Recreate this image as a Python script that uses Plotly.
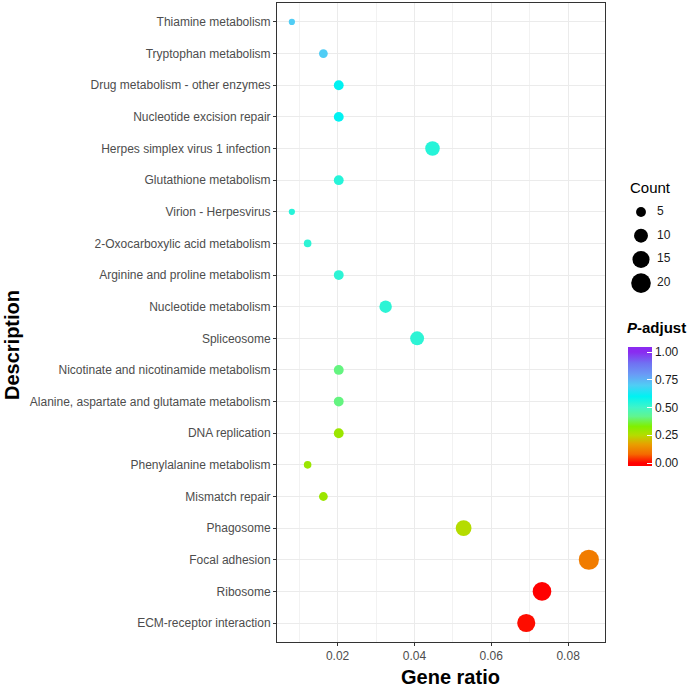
import plotly.graph_objects as go

# ---------------- data ----------------
descriptions = [
    "Thiamine metabolism",
    "Tryptophan metabolism",
    "Drug metabolism - other enzymes",
    "Nucleotide excision repair",
    "Herpes simplex virus 1 infection",
    "Glutathione metabolism",
    "Virion - Herpesvirus",
    "2-Oxocarboxylic acid metabolism",
    "Arginine and proline metabolism",
    "Nucleotide metabolism",
    "Spliceosome",
    "Nicotinate and nicotinamide metabolism",
    "Alanine, aspartate and glutamate metabolism",
    "DNA replication",
    "Phenylalanine metabolism",
    "Mismatch repair",
    "Phagosome",
    "Focal adhesion",
    "Ribosome",
    "ECM-receptor interaction",
]
gene_ratio = [0.0081, 0.0163, 0.0203, 0.0203, 0.0447, 0.0203, 0.0081, 0.0122,
              0.0203, 0.0325, 0.0407, 0.0203, 0.0203, 0.0203, 0.0122, 0.0163,
              0.0528, 0.0854, 0.0732, 0.0691]
counts = [2, 4, 5, 5, 11, 5, 2, 3, 5, 8, 10, 5, 5, 5, 3, 4, 13, 21, 18, 17]
p_adjust = [0.70, 0.70, 0.60, 0.60, 0.54, 0.54, 0.54, 0.53, 0.53, 0.53, 0.53,
            0.41, 0.41, 0.29, 0.29, 0.29, 0.25, 0.11, 0.00, 0.01]

legend_counts = [5, 10, 15, 20]
legend_labels = ["5", "10", "15", "20"]
cbar_ticks = [0.0, 0.25, 0.5, 0.75, 1.0]
x_ticks = [0.02, 0.04, 0.06, 0.08]

# ---------------- style ----------------
FONT = "Liberation Sans, Arial, sans-serif"
# colour stops as (p-adjust value, colour)
color_stops = [
    (0.00, "#FF0000"), (0.08, "#F56A00"), (0.17, "#E8A000"), (0.25, "#B5DC00"),
    (0.33, "#80F000"), (0.42, "#60F590"), (0.50, "#40F5C8"), (0.60, "#00F2F2"),
    (0.70, "#50CDF5"), (0.80, "#6A9AF5"), (0.90, "#7070F2"), (1.00, "#8A2BF0"),
]
CMIN, CMAX = -0.027, 1.045   # small bar extension like ggplot's colourbar
colorscale = [[0.0, color_stops[0][1]]]
for v, c in color_stops:
    colorscale.append([(v - CMIN) / (CMAX - CMIN), c])
colorscale.append([1.0, color_stops[-1][1]])

SIZEREF = 2 / 19.36

W, H = 688, 688
ML, MR, MT, MB = 277, 0, 3, 46
PW = W - ML - MR
PH = H - MT - MB


def px_x(px):
    return (px - ML) / PW


def px_y(py):
    return (H - MB - py) / PH


fig = go.Figure()

fig.add_trace(go.Scatter(
    x=gene_ratio, y=descriptions, mode="markers",
    marker=dict(
        size=counts, sizemode="area", sizeref=SIZEREF,
        color=p_adjust, cmin=CMIN, cmax=CMAX, colorscale=colorscale,
        line=dict(width=0), opacity=1,
        colorbar=dict(
            x=px_x(628), xanchor="left", xpad=0,
            y=px_y(406.5), yanchor="middle", ypad=0,
            lenmode="pixels", len=119, thickness=24,
            outlinewidth=0,
            tickvals=cbar_ticks, tickformat=".2f",
            ticks="inside", ticklen=5, tickcolor="white", tickwidth=1,
            tickfont=dict(size=12, color="#1a1a1a", family=FONT),
        ),
    ),
    showlegend=False, hoverinfo="x+y",
))

# size legend (Count)
fig.add_trace(go.Scatter(
    x=[0] * len(legend_counts), y=list(range(len(legend_counts))),
    mode="markers",
    marker=dict(size=legend_counts, sizemode="area", sizeref=SIZEREF,
                color="black", line=dict(width=0), opacity=1),
    xaxis="x2", yaxis="y2", showlegend=False, hoverinfo="skip",
))
fig.add_trace(go.Scatter(
    x=[1] * len(legend_counts), y=list(range(len(legend_counts))),
    mode="text", text=legend_labels, textposition="middle right",
    textfont=dict(size=12, color="#1a1a1a", family=FONT),
    xaxis="x2", yaxis="y2", showlegend=False, hoverinfo="skip",
))

fig.update_layout(
    width=W, height=H,
    margin=dict(l=ML, r=MR, t=MT, b=MB, pad=0),
    paper_bgcolor="white", plot_bgcolor="white",
    font=dict(family=FONT, color="#4d4d4d"),
    xaxis=dict(
        domain=[0, px_x(605)], range=[0.00423, 0.0896],
        tickvals=x_ticks, tickformat=".2f",
        ticks="outside", ticklen=3, tickcolor="#333333", tickwidth=1,
        tickfont=dict(size=12, color="#4d4d4d", family=FONT),
        showgrid=True, gridcolor="#ebebeb", gridwidth=1,
        minor=dict(dtick=0.01, tick0=0, showgrid=True, gridcolor="#f2f2f2", gridwidth=1),
        showline=True, linecolor="#333333", linewidth=1, mirror=True,
        zeroline=False,
    ),
    yaxis=dict(
        type="category", categoryorder="array", categoryarray=descriptions,
        range=[len(descriptions) - 0.4, -0.6],
        ticks="outside", ticklen=3, tickcolor="#333333", tickwidth=1,
        tickfont=dict(size=12, color="#4d4d4d", family=FONT),
        showgrid=True, gridcolor="#ebebeb", gridwidth=1,
        showline=True, linecolor="#333333", linewidth=1, mirror=True,
        zeroline=False,
    ),
    xaxis2=dict(domain=[px_x(620), 1], range=[-21 / 16, -21 / 16 + 68 / 16],
                visible=False, fixedrange=True),
    yaxis2=dict(domain=[px_y(300), px_y(175)],
                range=[(300 - 212) / 23.7, (175 - 212) / 23.7],
                visible=False, fixedrange=True),
    annotations=[
        dict(text="<b>Gene ratio</b>", x=px_x(450), y=px_y(677),
             xref="paper", yref="paper", xanchor="center", yanchor="middle",
             showarrow=False, font=dict(size=20, color="#000000", family=FONT)),
        dict(text="<b>Description</b>", x=px_x(12), y=px_y(345),
             xref="paper", yref="paper", xanchor="center", yanchor="middle",
             textangle=-90, showarrow=False,
             font=dict(size=20, color="#000000", family=FONT)),
        dict(text="Count", x=(628 - 641) / 16, y=(187 - 212) / 23.7,
             xref="x2", yref="y2", xanchor="left", yanchor="middle",
             showarrow=False, font=dict(size=15, color="#000000", family=FONT)),
        dict(text="<b><i>P</i>-adjust</b>", x=px_x(625), y=px_y(327),
             xref="paper", yref="paper", xanchor="left", yanchor="middle",
             showarrow=False, font=dict(size=15, color="#000000", family=FONT)),
    ],
)

fig.write_html("out.html")
